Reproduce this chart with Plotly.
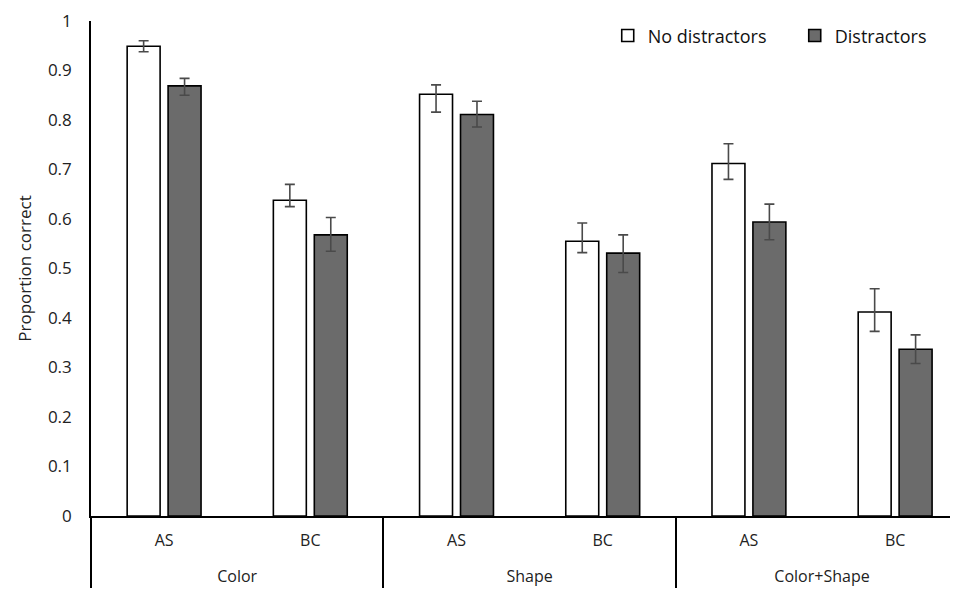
import plotly.graph_objects as go

groups = ["Color", "Color", "Shape", "Shape", "Color+Shape", "Color+Shape"]
conds = ["AS", "BC", "AS", "BC", "AS", "BC"]

no_dist = [0.949, 0.638, 0.852, 0.555, 0.712, 0.412]
no_dist_plus = [0.011, 0.032, 0.019, 0.037, 0.040, 0.047]
no_dist_minus = [0.011, 0.013, 0.036, 0.023, 0.032, 0.039]

dist = [0.869, 0.568, 0.811, 0.531, 0.594, 0.337]
dist_plus = [0.015, 0.035, 0.027, 0.037, 0.036, 0.029]
dist_minus = [0.019, 0.033, 0.025, 0.039, 0.036, 0.029]

y_ticks = [0, 0.1, 0.2, 0.3, 0.4, 0.5, 0.6, 0.7, 0.8, 0.9, 1]
y_tick_text = ["0", "0.1", "0.2", "0.3", "0.4", "0.5", "0.6", "0.7", "0.8", "0.9", "1"]

FONT = "Open Sans"
err_color = "#4a4a4a"

# second-level labels pushed one line lower, as in the reference
group_labels = ["<br>" + g for g in groups]

fig = go.Figure()
fig.add_trace(go.Bar(
    name="No distractors", x=[group_labels, conds], y=no_dist,
    marker=dict(color="white", line=dict(color="black", width=1.6)),
    error_y=dict(type="data", symmetric=False, array=no_dist_plus, arrayminus=no_dist_minus,
                 color=err_color, thickness=1.6, width=5),
))
fig.add_trace(go.Bar(
    name="Distractors", x=[group_labels, conds], y=dist,
    marker=dict(color="#6b6b6b", line=dict(color="black", width=1.6)),
    error_y=dict(type="data", symmetric=False, array=dist_plus, arrayminus=dist_minus,
                 color=err_color, thickness=1.6, width=5),
))

fig.update_layout(
    width=950, height=584,
    margin=dict(l=83, r=0, t=13, b=76, autoexpand=False),
    paper_bgcolor="white", plot_bgcolor="white",
    barmode="group", bargap=0.44, bargroupgap=0.195,
    font=dict(family=FONT, size=15, color="#222"),
    legend=dict(orientation="h", x=0.596, xanchor="left", y=0.97, yanchor="middle",
                font=dict(size=18, color="#111"), bgcolor="rgba(0,0,0,0)",
                itemwidth=30, traceorder="normal",
                entrywidth=142, entrywidthmode="pixels"),
    showlegend=True,
)
fig.update_xaxes(
    type="multicategory", range=[-0.5, 5.43], automargin=False,
    showline=True, linecolor="black", linewidth=1.6,
    showgrid=False, ticks="", showdividers=True, dividercolor="black", dividerwidth=1.6,
    ticklabelstandoff=9,
    tickfont=dict(family=FONT, size=16, color="#222"),
)
fig.update_yaxes(
    range=[0, 1], tickvals=y_ticks, ticktext=y_tick_text, automargin=False,
    showline=True, linecolor="black", linewidth=1.6, showgrid=False, zeroline=False,
    ticks="", ticklabelstandoff=14, ticklabeloverflow="allow",
    tickfont=dict(family=FONT, size=17, color="#222"),
    title=dict(text="Proportion correct", font=dict(family=FONT, size=17, color="#222"), standoff=12),
)

fig.write_html("out.html")
